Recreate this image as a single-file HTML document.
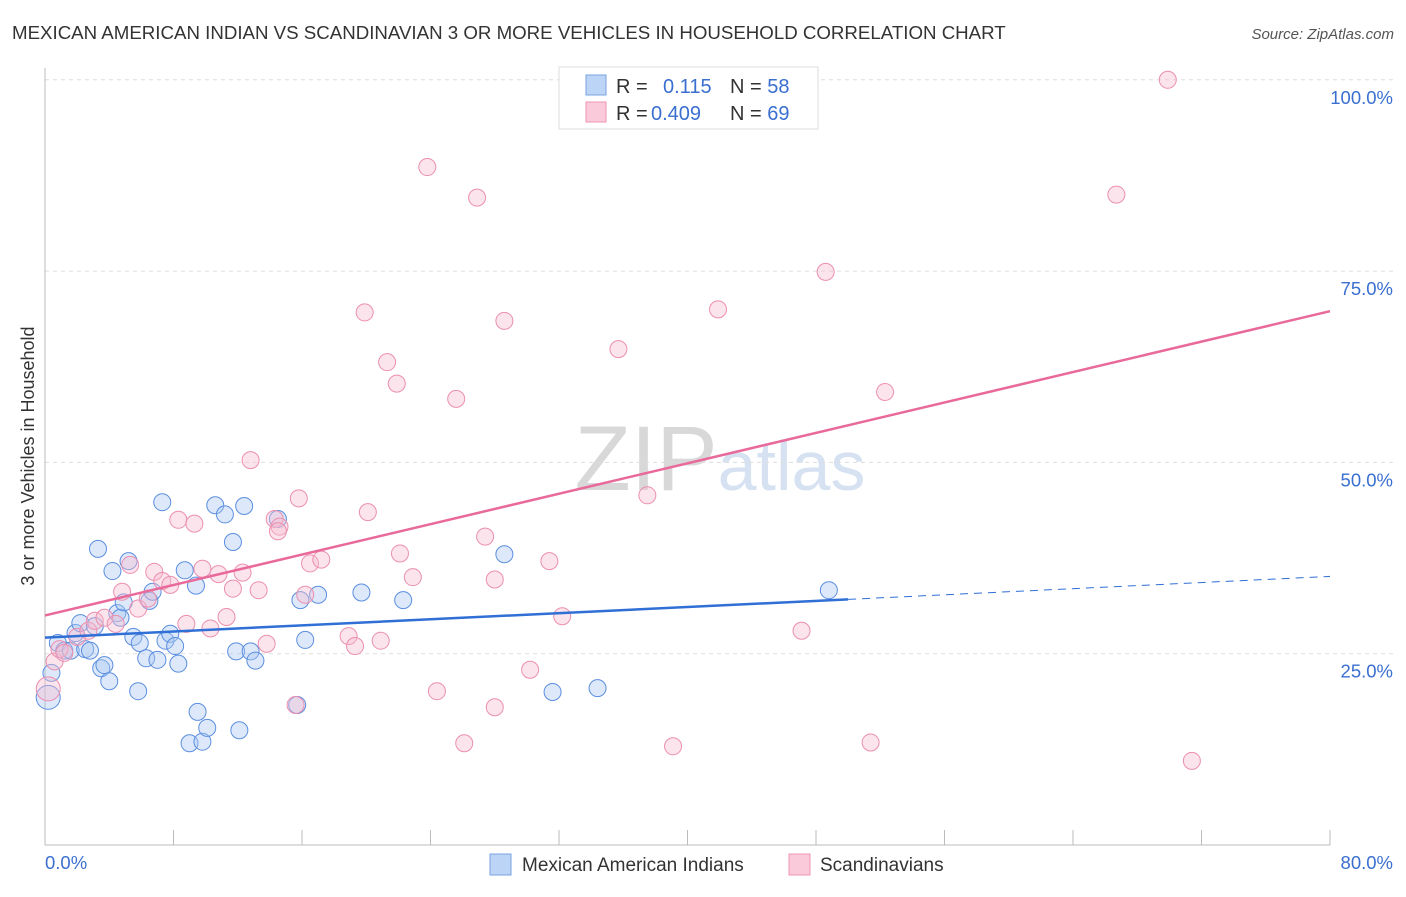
<!DOCTYPE html>
<html><head><meta charset="utf-8"><style>
body{margin:0;background:#fff;font-family:"Liberation Sans",sans-serif}
svg text{font-family:"Liberation Sans",sans-serif}
</style></head><body>
<svg id="chart" width="1406" height="892" xmlns="http://www.w3.org/2000/svg">
<text x="12" y="39" font-size="18.7" fill="#333">MEXICAN AMERICAN INDIAN VS SCANDINAVIAN 3 OR MORE VEHICLES IN HOUSEHOLD CORRELATION CHART</text>
<text x="1394" y="39" font-size="15" fill="#555" text-anchor="end" font-style="italic">Source: ZipAtlas.com</text>
<text x="720" y="490" font-size="92" text-anchor="middle" fill="#ddd" font-family="Liberation Serif"><tspan fill="#d8d8d8">ZIP</tspan><tspan fill="#d6e2f2" font-family="Liberation Sans" font-size="70">atlas</tspan></text>
<g id="grid"></g><g id="marks"></g>
<text transform="translate(34,456) rotate(-90)" font-size="18" fill="#333" text-anchor="middle">3 or more Vehicles in Household</text>
<text x="45" y="869" font-size="18.5" fill="#3a6fd0">0.0%</text>
<text x="1393" y="869" font-size="18.5" fill="#3a6fd0" text-anchor="end">80.0%</text>
<g>
<rect x="490" y="854" width="21" height="21" fill="#bcd4f6" stroke="#7aa3e0"/>
<text x="522" y="871" font-size="19" fill="#333">Mexican American Indians</text>
<rect x="789" y="854" width="21" height="21" fill="#fbcada" stroke="#ee96b4"/>
<text x="820" y="871" font-size="19" fill="#333">Scandinavians</text>
</g>
<g>
<rect x="559" y="67" width="259" height="62" fill="#fff" stroke="#ddd"/>
<rect x="586" y="75" width="20" height="20" fill="#bcd4f6" stroke="#7aa3e0"/>
<rect x="586" y="102" width="20" height="20" fill="#fbcada" stroke="#ee96b4"/>
<text x="616" y="93" font-size="20" fill="#333">R = <tspan fill="#3a6fd0" x="663">0.115</tspan><tspan x="730">N = </tspan><tspan fill="#3a6fd0">58</tspan></text>
<text x="616" y="120" font-size="20" fill="#333">R = <tspan fill="#3a6fd0" x="651">0.409</tspan><tspan x="730">N = </tspan><tspan fill="#3a6fd0">69</tspan></text>
</g>
</svg>
<script>
const yTicks=[25,50,75,100];
const yTickLabels=["25.0%","50.0%","75.0%","100.0%"];
const blueX=[0.2,0.4,0.8,1.2,1.6,1.9,2.2,2.5,2.8,3.1,3.3,3.5,3.7,4.0,4.2,4.5,4.7,4.9,5.2,5.5,5.8,5.9,6.3,6.5,6.7,7.0,7.3,7.5,7.8,8.1,8.3,8.7,9.0,9.4,9.5,9.8,10.1,10.6,11.2,11.7,11.9,12.1,12.4,12.8,13.1,14.5,15.9,16.2,17.0,19.7,22.3,28.6,31.6,34.4,48.8,15.7];
const blueY=[19.3,22.5,26.4,25.4,25.4,27.7,29.0,25.6,25.4,28.6,38.7,23.1,23.5,21.4,35.8,30.3,29.7,31.7,37.1,27.2,20.1,26.4,24.4,31.9,33.1,24.2,44.8,26.7,27.6,26.0,23.7,35.9,13.3,33.9,17.4,13.5,15.3,44.4,43.2,39.6,25.3,15.0,44.3,25.3,24.1,42.6,32.0,26.8,32.7,33.0,32.0,38.0,20.0,20.5,33.3,18.3];
const pinkX=[0.2,0.6,0.9,1.2,2.0,2.7,3.1,3.7,4.4,4.8,5.3,5.8,6.4,6.8,7.3,7.8,8.3,8.8,9.3,9.8,10.3,10.8,11.3,11.7,12.3,12.8,13.3,13.8,14.3,14.6,15.6,15.8,16.5,16.2,17.2,18.9,19.3,19.9,20.1,20.9,21.3,21.9,22.1,22.9,23.8,24.4,25.6,26.1,26.9,27.4,28.0,28.0,28.6,30.2,31.4,32.2,35.7,37.5,39.1,41.9,43.3,47.1,48.6,51.4,52.3,66.7,69.9,71.4,14.5];
const pinkY=[20.4,24.0,25.6,25.1,27.2,28.0,29.3,29.7,28.9,33.1,36.6,30.9,32.2,35.7,34.5,34.0,42.5,28.9,42.0,36.1,28.3,35.4,29.8,33.5,35.6,50.3,33.3,26.3,42.6,41.6,18.3,45.3,36.8,32.7,37.3,27.3,26.0,69.6,43.5,26.7,63.1,60.3,38.1,35.0,88.6,20.1,58.3,13.3,84.6,40.3,18.0,34.7,68.5,22.9,37.1,29.9,64.8,45.7,12.9,70.0,100.1,28.0,74.9,13.4,59.2,85.0,100.0,11.0,41.0];
const pinkBig=[0];
const blueBig=[0];
const X=v=>45+v/80*1285, Y=v=>845-v/25*191.3;
const NS="http://www.w3.org/2000/svg";
const grid=document.getElementById('grid'),marks=document.getElementById('marks');
function mk(tag,attrs,parent){const e=document.createElementNS(NS,tag);for(const k in attrs)e.setAttribute(k,attrs[k]);parent.appendChild(e);return e;}
yTicks.forEach((t,i)=>{
 const l=mk('line',{x1:45,x2:1393,y1:Y(t),y2:Y(t),stroke:'#ddd','stroke-dasharray':'4,4'},grid);
 
 
 const tx=mk('text',{x:1393,y:Y(t)+24,'font-size':18.5,fill:'#3a6fd0','text-anchor':'end'},grid);
 tx.textContent=yTickLabels[i];
 
 
});
const ax=mk('line',{x1:45,x2:1330,y1:845,y2:845,stroke:'#bbb'},grid);


const ay=mk('line',{x1:45,x2:45,y1:68,y2:845,stroke:'#bbb'},grid);


for(let i=0;i<=10;i++){const t=mk('line',{x1:X(i*8),x2:X(i*8),y1:830,y2:845,stroke:'#bbb'},grid);
 
 }
function pts(xs,ys,fill,stroke,name,big){xs.forEach((x,i)=>{const c=mk('circle',{cx:X(x),cy:Y(ys[i]),r:big.includes(i)?12:8.5,fill:fill,'fill-opacity':0.4,stroke:stroke,'stroke-width':1},marks);
 
 });}
pts(blueX,blueY,'#a9c8f3','#5b8ee0','blue-point',blueBig);
pts(pinkX,pinkY,'#f8bcd0','#eb8fb0','pink-point',pinkBig);
function line(x1,y1,x2,y2,color,name,dash){const l=mk('line',{x1:X(x1),y1:Y(y1),x2:X(x2),y2:Y(y2),stroke:color,'stroke-width':dash?1:2.5},marks);if(dash)l.setAttribute('stroke-dasharray','8,6');
 
 }
const bi=27.1,bs=0.1;
line(0,bi,50,bi+bs*50,'#2f6fd6','blue-trend-line');
line(50,bi+bs*50,80,bi+bs*80,'#2f6fd6','blue-trend-extension',true);
const pi=30.0,ps=0.497;
line(0,pi,80,pi+ps*80,'#e8699a','pink-trend-line');
</script>
</body></html>
